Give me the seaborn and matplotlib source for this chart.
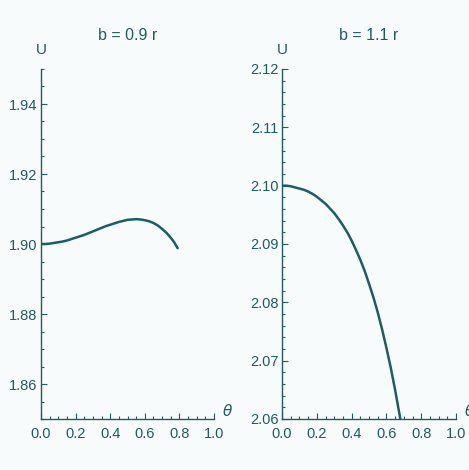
import matplotlib
matplotlib.use("Agg")
import matplotlib.pyplot as plt
from matplotlib.ticker import MultipleLocator, FormatStrFormatter
import seaborn as sns
import pandas as pd

# values (U against theta)
theta_a = [0.0, 0.025, 0.05, 0.075, 0.10, 0.125, 0.15, 0.175, 0.20, 0.225,
           0.25, 0.275, 0.30, 0.325, 0.35, 0.375, 0.40, 0.425, 0.45, 0.475,
           0.50, 0.525, 0.55, 0.575, 0.60, 0.625, 0.65, 0.675, 0.70, 0.725,
           0.75, 0.77, 0.79]
u_a = [1.9000, 1.9000, 1.9001, 1.9003, 1.9005, 1.9007, 1.9010, 1.9014, 1.9018,
       1.9022, 1.9026, 1.9031, 1.9036, 1.9041, 1.9046, 1.9051, 1.9055, 1.9059,
       1.9063, 1.9066, 1.9069, 1.9070, 1.9071, 1.9070, 1.9068, 1.9065, 1.9060,
       1.9053, 1.9043, 1.9032, 1.9018, 1.9005, 1.8988]

theta_b = [0.0, 0.025, 0.05, 0.075, 0.10, 0.125, 0.15, 0.175, 0.20, 0.225,
           0.25, 0.275, 0.30, 0.325, 0.35, 0.375, 0.40, 0.425, 0.45, 0.475,
           0.50, 0.525, 0.55, 0.575, 0.60, 0.625, 0.65, 0.665, 0.68]
u_b = [2.1000, 2.1000, 2.0999, 2.0997, 2.0995, 2.0993, 2.0990, 2.0986, 2.0981,
       2.0975, 2.0969, 2.0961, 2.0953, 2.0943, 2.0932, 2.0920, 2.0906, 2.0890,
       2.0873, 2.0854, 2.0832, 2.0809, 2.0783, 2.0754, 2.0722, 2.0688, 2.0650,
       2.0625, 2.0600]

titles = ["b = 0.9 r", "b = 1.1 r"]

ink = "#1d5c62"
line_col = "#1a5d66"
bg = "#f8fbfb"

sns.set_style("ticks")
plt.rcParams['font.family'] = ['Liberation Sans', 'DejaVu Sans']

fig = plt.figure(figsize=(4.69, 4.70), dpi=100, facecolor=bg)
ax1 = fig.add_axes([41/469, 51/470, 173/469, 350/470])
ax2 = fig.add_axes([282/469, 51/470, 174/469, 350/470])

df_a = pd.DataFrame({"theta": theta_a, "U": u_a})
df_b = pd.DataFrame({"theta": theta_b, "U": u_b})

sns.lineplot(data=df_a, x="theta", y="U", ax=ax1, color=line_col, linewidth=1.8)
sns.lineplot(data=df_b, x="theta", y="U", ax=ax2, color=line_col, linewidth=1.8)

settings = [(ax1, (1.85, 1.95), 0.02, 0.005),
            (ax2, (2.06, 2.12), 0.01, 0.002)]

for (ax, ylim, major, minor), title in zip(settings, titles):
    ax.set_facecolor(bg)
    ax.set_xlim(0, 1.0)
    ax.set_ylim(*ylim)
    ax.xaxis.set_major_locator(MultipleLocator(0.2))
    ax.xaxis.set_minor_locator(MultipleLocator(0.05))
    ax.xaxis.set_major_formatter(FormatStrFormatter("%.1f"))
    ax.yaxis.set_major_locator(MultipleLocator(major))
    ax.yaxis.set_minor_locator(MultipleLocator(minor))
    ax.yaxis.set_major_formatter(FormatStrFormatter("%.2f"))
    for s in ["top", "right"]:
        ax.spines[s].set_visible(False)
    for s in ["left", "bottom"]:
        ax.spines[s].set_color(ink)
        ax.spines[s].set_linewidth(1.0)
    ax.tick_params(which="major", direction="in", length=4, width=0.8,
                   color=ink, labelcolor=ink, labelsize=10.5)
    ax.tick_params(axis="y", which="major", pad=2.5)
    ax.tick_params(axis="x", which="major", pad=6)
    ax.tick_params(which="minor", direction="in", length=2.5, width=0.8, color=ink)
    ax.set_xlabel("")
    ax.set_ylabel("")
    ax.set_title(title, fontsize=11.5, color=ink, pad=21)
    ax.text(0.0, 1.035, "U", transform=ax.transAxes, ha="center", va="bottom",
            fontsize=11, color=ink)
    ax.text(1.08, 0.0, r"$\theta$", transform=ax.transAxes, ha="center",
            va="bottom", fontsize=11, color=ink)

fig.savefig("out.png", dpi=100, facecolor=bg)
